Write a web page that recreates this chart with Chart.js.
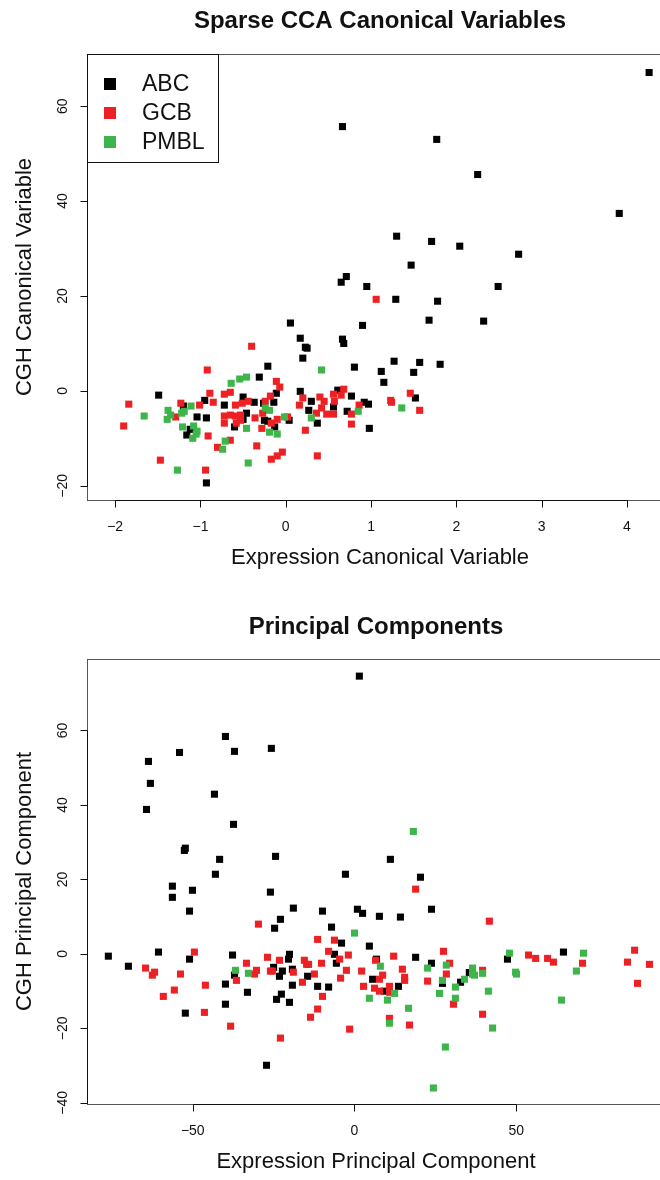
<!DOCTYPE html>
<html>
<head>
<meta charset="utf-8">
<script src="https://cdn.jsdelivr.net/npm/chart.js@4.4.1/dist/chart.umd.min.js"></script>
<style>
  html, body { margin: 0; padding: 0; background: #fff; }
  #wrap { width: 660px; height: 1180px; overflow: hidden; position: relative; }
  canvas { display: block; }
</style>
</head>
<body>
<div id="wrap">
  <canvas id="ccaChart" width="680" height="590"></canvas>
  <canvas id="pcaChart" width="680" height="590"></canvas>
</div>
<script>
// group names and colours
var groups = ['ABC', 'GCB', 'PMBL'];
var groupColors = ['#000000', '#ed2024', '#3db54a'];

// sparse CCA canonical variables (expression, CGH)
var ccaAbcX = [4.26,0.665,1.77,2.25,3.91,1.30,1.71,2.04,2.73,1.47,0.71,0.65,0.95,2.49,1.29,1.78,0.055,0.90,1.68,2.32,0.17,0.665,0.68,0.23,0.25,
  0.20,0.805,1.27,1.57,1.81,1.12,1.50,1.15,0.17,1.52,0.30,0.27,0.61,0.56,0.77,0.72,0.92,0.97,0.98,0.37,0.04,
  -0.21,-0.31,-0.11,-1.49,-0.95,-1.20,-1.04,-0.93,-0.72,-0.50,-0.37,-0.26,-0.14,-0.50,-0.46,-0.60,-0.25,-0.21,-0.13,-1.16,-1.12,-0.93];
var ccaAbcY = [67.1,55.7,53.0,45.6,37.4,32.6,31.5,30.5,28.8,26.5,24.1,22.9,22.0,22.0,19.3,18.9,14.3,13.8,14.9,14.7,11.1,10.9,10.0,9.2,9.0,
  6.9,5.0,6.25,6.0,5.6,4.1,3.9,1.8,-0.1,-1.5,-2.2,-4.1,0.15,-3.4,-1.1,-4.3,-2.4,-2.8,-7.9,-6.8,-6.2,
  5.2,2.9,-0.5,-0.9,-2.0,-3.2,-5.5,-5.7,-3.0,-1.3,-2.4,-2.6,-2.4,-6.0,-4.7,-7.6,-6.2,-6.4,-7.6,-9.3,-8.1,-19.4];
var ccaGcbX = [1.06,-0.07,1.46,1.23,1.24,1.57,0.20,0.16,0.40,0.45,0.56,0.57,0.68,0.65,0.42,0.36,0.48,0.56,0.77,0.86,0.77,0.02,0.23,-0.04,0.37,
  -0.40,-0.92,-0.11,-0.18,-1.84,-1.90,-0.89,-0.72,-0.65,-0.85,-1.23,-1.01,-1.29,-0.59,-0.51,-0.44,-0.24,-0.27,-0.72,-0.65,-0.59,-0.53,
  -0.72,-0.58,-0.53,-0.36,-0.10,-0.17,-0.28,-0.91,-0.65,-0.80,-0.34,-0.10,-0.17,-1.47,-0.94];
var ccaGcbY = [19.3,0.8,-0.5,-2.0,-2.4,-4.1,-1.5,-3.0,-1.3,-2.2,-0.7,-2.2,0.35,-0.9,-3.6,-4.7,-4.9,-4.9,-4.9,-3.0,-7.0,-5.5,-8.3,-12.9,-13.7,
  9.4,4.4,2.0,-1.1,-2.8,-7.4,-0.5,-0.7,-0.3,-2.4,-2.6,-3.0,-5.5,-3.0,-2.6,-2.2,-2.2,-4.7,-5.3,-5.1,-5.3,-5.1,
  -6.8,-6.8,-6.2,-5.7,-6.0,-6.8,-7.9,-9.5,-10.4,-11.9,-11.6,-13.7,-14.4,-14.6,-16.7];
var ccaPmblX = [0.42,1.36,0.85,0.30,-0.015,-0.64,-0.54,-0.46,-1.66,-1.11,-1.38,-1.19,-1.22,-1.35,-1.39,-0.24,-0.19,-0.46,-0.19,-0.10,
  -1.21,-1.08,-1.04,-1.05,-1.09,-0.71,-0.74,-0.44,-1.27];
var ccaPmblY = [4.4,-3.6,-4.3,-5.7,-5.5,1.6,2.5,2.9,-5.3,-3.2,-4.1,-4.3,-4.7,-5.1,-6.0,-3.6,-4.1,-7.9,-8.7,-9.1,
  -7.6,-7.4,-8.5,-9.1,-10.0,-10.6,-12.3,-15.2,-16.7];
var ccaXTicks = [-2, -1, 0, 1, 2, 3, 4];
var ccaYTicks = [-20, 0, 20, 40, 60];

// principal components (expression, CGH)
var pcaAbcX = [1.5,-39.9,-54.1,-37.1,-25.7,-63.7,-63.1,-43.3,-64.3,-37.4,-52.3,-52.6,-41.7,-24.4,-43.0,-2.8,-56.3,-56.3,-50.1,-26.0,-51.0,-18.9,-9.9,0.9,2.5,-22.9,-24.7,-7.1,
  11.1,20.4,7.7,14.2,23.8,
  -76.1,-69.9,-60.6,-51.0,-52.3,-37.7,-37.1,-39.9,-33.1,-39.9,-27.2,
  -4.0,4.6,-6.2,-5.6,-20.1,-20.4,-25.0,-22.3,-23.2,-19.2,-14.5,-19.2,-11.4,-8.0,-22.6,-24.1,-20.1,6.8,18.9,23.8,5.6,9.3,13.6,27.2,32.8,
  47.3,64.6,35.5];
var pcaAbcY = [74.6,58.4,54.1,54.4,55.2,51.7,45.8,42.9,38.8,34.8,28.4,27.8,25.4,26.2,21.4,21.4,18.2,15.2,17.1,16.6,11.5,12.3,11.5,12.0,10.9,9.3,6.9,7.2,
  25.4,20.6,10.1,9.9,12.0,
  -0.6,-3.3,0.5,-1.4,-15.9,-0.3,-5.7,-8.1,-10.3,-13.5,-29.9,
  2.9,2.1,-0.1,-2.5,-0.1,-1.4,-3.6,-4.6,-6.0,-4.1,-6.0,-8.4,-8.7,-8.9,-10.8,-12.2,-13.0,-1.4,-0.9,-2.5,-6.8,-10.0,-8.7,-7.9,-7.6,
  -1.4,0.5,-5.0];
var pcaGcbX = [18.9,41.7,-29.7,-11.4,-6.2,
  -64.6,-62.5,-61.8,-59.1,-55.7,-53.8,-49.5,-46.1,-46.4,-33.4,-36.5,-30.3,-30.9,-26.9,-38.3,-26.0,
  -8.0,-1.9,-4.6,-23.2,-25.4,-18.9,-15.5,-14.8,-14.2,-10.2,-12.4,-16.1,-9.9,-11.4,-13.6,-22.9,-1.5,-2.5,-4.3,2.2,6.5,12.1,27.5,29.4,
  14.8,28.4,8.7,15.5,15.5,7.7,2.8,6.2,7.7,10.8,10.8,22.6,30.6,10.8,17.0,
  53.8,56.0,59.7,61.5,70.5,86.6,84.4,91.2,87.5,39.6,39.6];
var pcaGcbY = [17.4,8.8,8.0,3.9,3.7,
  -3.8,-5.7,-4.9,-11.4,-9.7,-5.4,0.5,-8.4,-15.7,-2.5,-7.1,-4.4,-5.4,-0.9,-19.4,-4.6,
  0.7,-0.3,-1.4,-1.7,-4.6,-4.9,-1.7,-2.8,-2.8,-2.5,-5.4,-7.6,-11.4,-14.8,-17.0,-22.6,-20.2,-4.4,-6.5,-4.6,-1.7,-0.6,0.7,-2.5,
  -4.1,-5.4,-5.7,-6.3,-7.1,-6.8,-8.7,-9.2,-10.0,-8.7,-10.3,-7.3,-13.5,-17.3,-19.1,
  -0.3,-1.2,-1.2,-2.2,-2.5,1.0,-2.2,-2.8,-7.9,-4.4,-16.2];
var pcaPmblX = [18.2,0,-36.8,-32.8,8.0,22.6,28.4,27.2,31.2,26.3,31.2,34.0,16.7,10.8,28.1,24.4,36.5,36.5,12.4,4.6,10.2,
  47.9,70.8,68.6,64.0,37.1,39.6,49.8,50.1,41.4,42.7];
var pcaPmblY = [32.9,5.6,-4.4,-5.2,-3.3,-3.8,-3.0,-7.1,-8.9,-10.6,-11.9,-6.8,-14.6,-18.6,-25.0,-36.0,-3.8,-5.4,-10.6,-11.9,-12.4,
  0.2,0.2,-4.6,-12.4,-5.7,-5.2,-4.9,-5.4,-10.0,-19.9];
var pcaXTicks = [-50, 0, 50];
var pcaYTicks = [-40, -20, 0, 20, 40, 60];

function pts(xs, ys) {
  var out = [];
  for (var i = 0; i < xs.length; i++) out.push({x: xs[i], y: ys[i]});
  return out;
}

function fmt(v) {
  return v < 0 ? '\u2212' + Math.abs(v) : String(v);
}

// R style box, axes, titles and legend
var rFrame = {
  id: 'rFrame',
  afterDraw: function(chart) {
    var o = chart.options.plugins.rFrame;
    var ctx = chart.ctx, a = chart.chartArea;
    var xs = chart.scales.x, ys = chart.scales.y;
    ctx.save();
    ctx.strokeStyle = '#555';
    ctx.lineWidth = 1;
    ctx.strokeRect(a.left + 0.5, a.top + 0.5, a.right - a.left, a.bottom - a.top);

    ctx.strokeStyle = '#111';
    ctx.fillStyle = '#111';
    // x axis
    var xb = a.bottom + 0.5;
    var x0 = Math.round(xs.getPixelForValue(o.xTicks[0])) + 0.5;
    var x1 = Math.round(xs.getPixelForValue(o.xTicks[o.xTicks.length - 1])) + 0.5;
    ctx.beginPath();
    ctx.moveTo(x0, xb); ctx.lineTo(x1, xb);
    o.xTicks.forEach(function(t) {
      var px = Math.round(xs.getPixelForValue(t)) + 0.5;
      ctx.moveTo(px, xb); ctx.lineTo(px, xb + 7);
    });
    ctx.stroke();
    ctx.font = '14px "Liberation Sans", Arial, sans-serif';
    ctx.textAlign = 'center';
    ctx.textBaseline = 'middle';
    o.xTicks.forEach(function(t) {
      ctx.fillText(fmt(t), xs.getPixelForValue(t), a.bottom + 27);
    });
    // y axis
    var yl = a.left + 0.5;
    var y0 = Math.round(ys.getPixelForValue(o.yTicks[0])) + 0.5;
    var y1 = Math.round(ys.getPixelForValue(o.yTicks[o.yTicks.length - 1])) + 0.5;
    ctx.beginPath();
    ctx.moveTo(yl, y0); ctx.lineTo(yl, y1);
    o.yTicks.forEach(function(t) {
      var py = Math.round(ys.getPixelForValue(t)) + 0.5;
      ctx.moveTo(yl, py); ctx.lineTo(yl - 7, py);
    });
    ctx.stroke();
    o.yTicks.forEach(function(t) {
      ctx.save();
      ctx.translate(a.left - 24, ys.getPixelForValue(t));
      ctx.rotate(-Math.PI / 2);
      ctx.fillText(fmt(t), 0, 0);
      ctx.restore();
    });

    // axis titles
    ctx.fillStyle = '#111';
    ctx.font = '22px "Liberation Sans", Arial, sans-serif';
    ctx.fillText(o.xTitle, (a.left + a.right) / 2, a.bottom + 58);
    ctx.save();
    ctx.translate(25, (a.top + a.bottom) / 2);
    ctx.rotate(-Math.PI / 2);
    ctx.fillText(o.yTitle, 0, 0);
    ctx.restore();

    // main title
    ctx.font = 'bold 24px "Liberation Sans", Arial, sans-serif';
    ctx.textBaseline = 'alphabetic';
    ctx.fillText(o.title, (a.left + a.right) / 2, o.titleY);
    ctx.textBaseline = 'middle';

    // legend box
    if (o.legend) {
      var L = o.legend;
      ctx.fillStyle = '#fff';
      ctx.fillRect(a.left, a.top, L.w, L.h);
      ctx.strokeStyle = '#111';
      ctx.strokeRect(a.left + 0.5, a.top + 0.5, L.w, L.h);
      ctx.font = '23px "Liberation Sans", Arial, sans-serif';
      ctx.textAlign = 'left';
      groups.forEach(function(g, i) {
        var cy = a.top + 30 + i * 29;
        ctx.fillStyle = groupColors[i];
        ctx.fillRect(a.left + 17, cy - 6, 12, 12);
        ctx.fillStyle = '#111';
        ctx.fillText(g, a.left + 55, cy + 1);
      });
    }
    ctx.restore();
  }
};

function makeSets(sets) {
  return sets.map(function(s, i) {
    return {
      label: groups[i],
      data: s,
      order: 3 - i,
      pointStyle: 'rect',
      pointRadius: 5,
      pointHoverRadius: 5,
      pointBorderWidth: 0,
      backgroundColor: groupColors[i],
      borderColor: groupColors[i]
    };
  });
}

function scatter(id, sets, lim, pad, frame) {
  return new Chart(document.getElementById(id), {
    type: 'scatter',
    data: { datasets: makeSets(sets) },
    options: {
      responsive: false,
      animation: false,
      devicePixelRatio: 1,
      layout: { padding: pad },
      scales: {
        x: { type: 'linear', display: false, min: lim[0], max: lim[1] },
        y: { type: 'linear', display: false, min: lim[2], max: lim[3] }
      },
      plugins: {
        legend: { display: false },
        tooltip: { enabled: false },
        rFrame: frame
      }
    },
    plugins: [rFrame]
  });
}

scatter('ccaChart',
  [pts(ccaAbcX, ccaAbcY), pts(ccaGcbX, ccaGcbY), pts(ccaPmblX, ccaPmblY)],
  [-2.33, 4.54, -23, 71],
  { left: 87, top: 54, right: 7, bottom: 90 },
  {
    xTicks: ccaXTicks, yTicks: ccaYTicks,
    xTitle: 'Expression Canonical Variable',
    yTitle: 'CGH Canonical Variable',
    title: 'Sparse CCA Canonical Variables', titleY: 28,
    legend: { w: 131, h: 108 }
  });

scatter('pcaChart',
  [pts(pcaAbcX, pcaAbcY), pts(pcaGcbX, pcaGcbY), pts(pcaPmblX, pcaPmblY)],
  [-82.7, 96, -40.3, 79.2],
  { left: 87, top: 69, right: 15, bottom: 76 },
  {
    xTicks: pcaXTicks, yTicks: pcaYTicks,
    xTitle: 'Expression Principal Component',
    yTitle: 'CGH Principal Component',
    title: 'Principal Components', titleY: 44
  });
</script>
</body>
</html>
